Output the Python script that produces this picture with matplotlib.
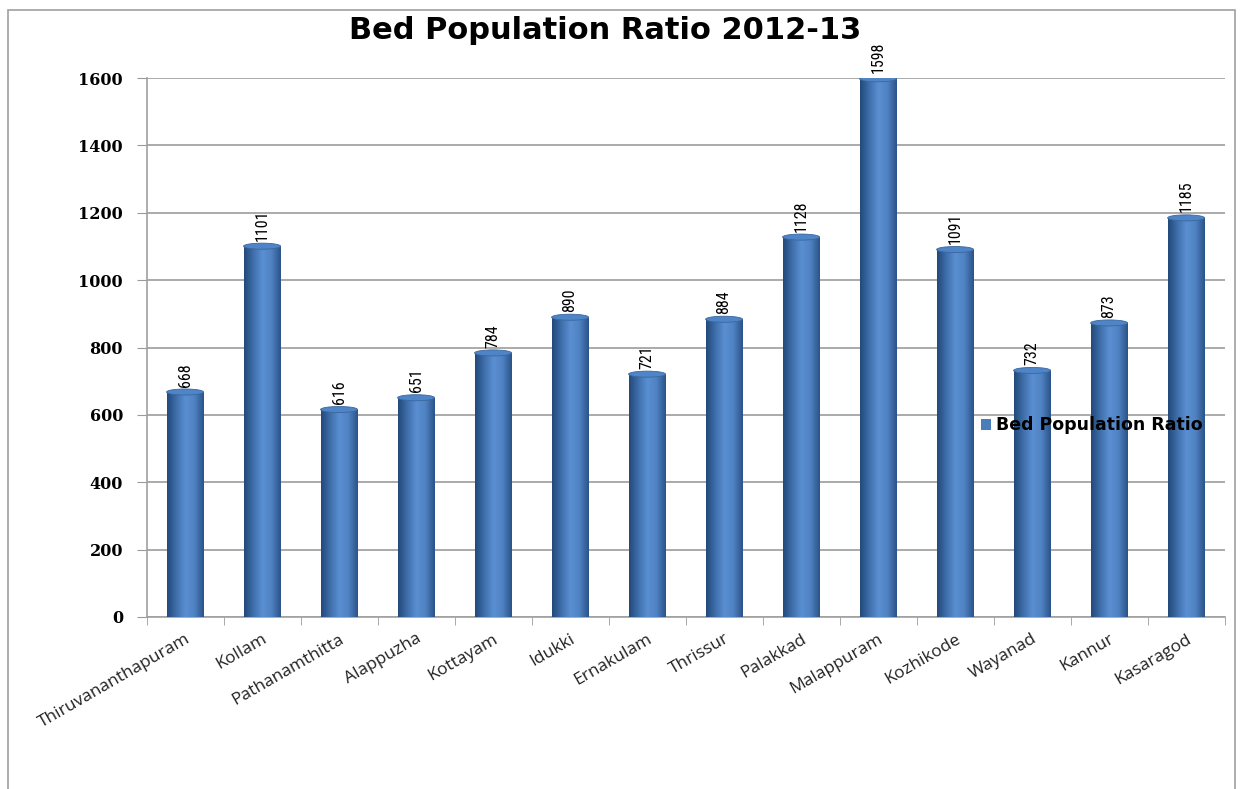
import matplotlib
matplotlib.use("Agg")
import matplotlib.pyplot as plt
import numpy as np
from matplotlib import font_manager
from matplotlib.colors import LinearSegmentedColormap
from matplotlib.patches import Ellipse, Rectangle

districts = ["Thiruvananthapuram", "Kollam", "Pathanamthitta", "Alappuzha", "Kottayam",
             "Idukki", "Ernakulam", "Thrissur", "Palakkad", "Malappuram", "Kozhikode",
             "Wayanad", "Kannur", "Kasaragod"]
ratio = [668, 1101, 616, 651, 784, 890, 721, 884, 1128, 1598, 1091, 732, 873, 1185]
yticks = [0, 200, 400, 600, 800, 1000, 1200, 1400, 1600]

# pick a narrow face for the value labels if one is around
installed = {f.name for f in font_manager.fontManager.ttflist}
narrow = [f for f in ["Liberation Sans Narrow", "DejaVu Sans Condensed", "Roboto Condensed"] if f in installed]
label_font = narrow + ["DejaVu Sans"]
label_size = 11.5 if narrow else 9

fig = plt.figure(figsize=(12.42, 7.89), dpi=100)
ax = fig.add_axes([0.118, 0.218, 0.868, 0.683])

x = np.arange(len(districts))
bars = ax.bar(x, ratio, width=0.48, color="#4a7ebb", zorder=3, label="Bed Population Ratio")

# cylinder shading
cyl = LinearSegmentedColormap.from_list("cyl", ["#23497a", "#3f6fab", "#5a8fd2", "#4f82c2", "#2b5489"])
grad = np.linspace(0, 1, 64).reshape(1, -1)
for b in bars:
    x0, w, h = b.get_x(), b.get_width(), b.get_height()
    im = ax.imshow(grad, extent=[x0, x0 + w, 0, h], aspect="auto", cmap=cyl, zorder=3.5,
                   interpolation="bicubic")
    im.set_clip_path(b)
    ax.add_patch(Ellipse((x0 + w / 2, h), w, 18, facecolor="#4f84c6", edgecolor="#3a679f",
                         lw=0.6, zorder=4))
    ax.add_patch(Ellipse((x0 + w / 2, 0), w, 12, facecolor="#2f5b92", edgecolor="none", zorder=3.4))

for xi, v in zip(x, ratio):
    ax.text(xi, v + 16, str(v), rotation=90, ha="center", va="bottom", fontsize=label_size,
            family=label_font, zorder=5)

ax.set_xlim(-0.5, len(districts) - 0.5)
ax.set_ylim(0, 1600)
ax.set_yticks(yticks)
ax.set_yticklabels([str(t) for t in yticks], fontsize=11.5, fontweight="bold", family="DejaVu Serif")
ax.set_xticks(x)
ax.set_xticklabels(districts, rotation=30, ha="right", rotation_mode="anchor", fontsize=12.5,
                   family="Open Sans", color="#222222")
ax.set_xticks(np.arange(len(districts) + 1) - 0.5, minor=True)
ax.tick_params(axis="x", which="major", length=0, pad=10)
ax.tick_params(axis="x", which="minor", length=6, color="#9a9a9a", direction="out")
ax.tick_params(axis="y", length=7, color="#9a9a9a", direction="out", pad=10)

ax.grid(axis="y", color="#9c9c9c", lw=1.2, zorder=0)
ax.set_axisbelow(True)
for s in ["top", "right"]:
    ax.spines[s].set_visible(False)
ax.spines["left"].set_color("#a0a0a0")
ax.spines["bottom"].set_color("#a0a0a0")
ax.spines["left"].set_linewidth(1.2)
ax.spines["bottom"].set_linewidth(1.2)

fig.text(0.487, 0.961, "Bed Population Ratio 2012-13", ha="center", va="center",
         fontsize=22, fontweight="bold")

fig.legend(loc="center left", bbox_to_anchor=(0.777, 0.461), frameon=False,
           prop={"weight": "bold", "size": 12.5}, handlelength=0.6, handleheight=0.6,
           handletextpad=0.3)

# chart area border
fig.add_artist(Rectangle((8 / 1242, -0.02), (1235 - 8) / 1242, 1 - 10 / 789 + 0.02,
                         transform=fig.transFigure, fill=False, edgecolor="#a0a0a0", lw=1.2))

fig.savefig("out.png", dpi=100)
